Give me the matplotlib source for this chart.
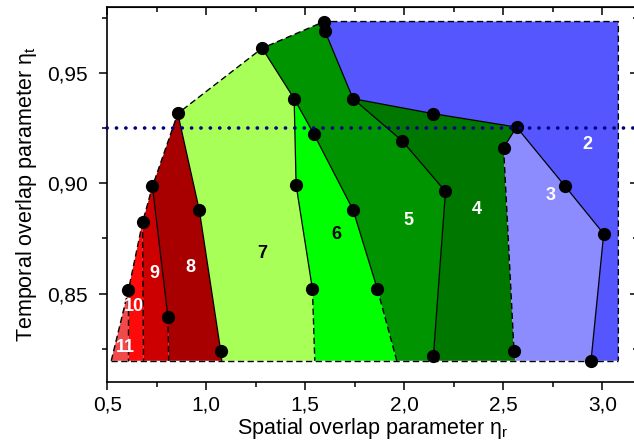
import numpy as np
import matplotlib
matplotlib.use("Agg")
import matplotlib.pyplot as plt
from matplotlib.ticker import MultipleLocator, FuncFormatter

plt.rcParams['font.family'] = ['Liberation Sans', 'DejaVu Sans']
plt.rcParams['mathtext.fontset'] = 'custom'
plt.rcParams['mathtext.rm'] = 'Liberation Sans'

# ---- data ----
y_bot = 0.8195          # lower edge of the filled map
y_top = 0.9734          # upper edge of the filled map
x_right = 3.081         # right edge of the filled map
y_dotted = 0.925        # horizontal reference line

# outer (dashed) left / upper border of the map
outer_x = [0.52, 0.607, 0.678, 0.728, 0.856, 1.282, 1.595, 3.081, 3.081]
outer_y = [y_bot, 0.8517, 0.8823, 0.8986, 0.9317, 0.9613, 0.9734, 0.9734, y_bot]

# region borders (solid part, dashed tail down to the bottom edge)
b9_x, b9_y = [0.728, 0.806], [0.8986, 0.8395]                      # 9 | 8
b9_tail_x = [0.806, 0.81]
b8_x = [0.856, 0.965, 1.073, 1.078]                               # 8 | 7
b8_y = [0.9317, 0.8877, 0.8238, y_bot]
b7_x, b7_y = [1.282, 1.4436, 1.4536, 1.536], [0.9613, 0.9384, 0.8992, 0.852]  # 7 | 6
b7_tail_x = [1.536, 1.548]
b6_x, b6_y = [1.4436, 1.544, 1.741, 1.864], [0.9384, 0.9222, 0.888, 0.852]   # 6 | 5
b6_tail_x = [1.864, 1.962]
b5_x = [1.595, 1.600, 1.741, 1.990, 2.208, 2.147, 2.145]          # 5 | 4
b5_y = [0.9734, 0.9689, 0.9384, 0.9192, 0.8963, 0.8217, y_bot]
b4top_x, b4top_y = [1.741, 2.147, 2.567], [0.9384, 0.9316, 0.9255]  # 4 | 2
b4_x, b4_y = [2.567, 2.5015], [0.9255, 0.9162]                      # 4 | 3
b4_tail_x, b4_tail_y = [2.5015, 2.554, 2.562], [0.9162, 0.824, y_bot]
b3_x = [2.567, 2.811, 3.007, 2.943]                                # 3 | 2
b3_y = [0.9255, 0.8988, 0.8771, y_bot]

# measured points (black dots)
pts_x = [0.607, 0.678, 0.728, 0.856, 0.965, 1.073, 0.806, 1.282, 1.4436, 1.4536,
         1.536, 1.544, 1.741, 1.864, 1.595, 1.600, 1.741, 1.990, 2.208, 2.147,
         2.147, 2.567, 2.5015, 2.554, 2.811, 3.007, 2.943]
pts_y = [0.8517, 0.8823, 0.8986, 0.9317, 0.8877, 0.8238, 0.8395, 0.9613, 0.9384, 0.8992,
         0.852, 0.9222, 0.888, 0.852, 0.9734, 0.9689, 0.9384, 0.9192, 0.8963, 0.8217,
         0.9316, 0.9255, 0.9162, 0.824, 0.8988, 0.8771, 0.8194]

region_labels = ['2', '3', '4', '5', '6', '7', '8', '9', '10', '11']
label_x = [2.924, 2.737, 2.367, 2.021, 1.657, 1.281, 0.922, 0.737, 0.633, 0.591]
label_y = [0.9177, 0.8947, 0.888, 0.8831, 0.8769, 0.8681, 0.862, 0.859, 0.8441, 0.8255]
label_colors = ['white', 'white', 'white', 'white', 'black', 'black',
                'white', 'white', 'white', 'white']

region_colors = {
    '11': '#f04a4a', '10': '#ff0a0a', '9': '#cc0000', '8': '#a80000',
    '7': '#a8ff58', '6': '#00ff00', '5': '#009400', '4': '#007800',
    '3': '#8c8cff', '2': '#5656ff',
}

# ---- region polygons built from the borders ----
polys = {
    '11': ([0.52, 0.607, 0.607], [y_bot, 0.8517, y_bot]),
    '10': ([0.607, 0.607, 0.678, 0.683], [y_bot, 0.8517, 0.8823, y_bot]),
    '9': ([0.683, 0.678] + b9_x + [0.81], [y_bot, 0.8823] + b9_y + [y_bot]),
    '8': ([0.81] + b9_x[::-1] + b8_x, [y_bot] + b9_y[::-1] + b8_y),
    '7': (b8_x[::-1] + b7_x + [1.548], b8_y[::-1] + b7_y + [y_bot]),
    '6': ([1.548] + b7_x[1:][::-1] + b6_x[1:] + [1.962],
          [y_bot] + b7_y[1:][::-1] + b6_y[1:] + [y_bot]),
    '5': ([1.962] + b6_x[::-1] + [1.282] + b5_x,
          [y_bot] + b6_y[::-1] + [0.9613] + b5_y),
    '4': (b5_x[2:][::-1] + b4top_x[1:] + b4_x[1:] + b4_tail_x[1:],
          b5_y[2:][::-1] + b4top_y[1:] + b4_y[1:] + b4_tail_y[1:]),
    '3': (b4_tail_x[::-1] + b4_x[::-1] + b3_x[1:],
          b4_tail_y[::-1] + b4_y[::-1] + b3_y[1:]),
    '2': (b3_x[::-1] + b4top_x[::-1][1:] + b5_x[:3][::-1] + [x_right, x_right],
          b3_y[::-1] + b4top_y[::-1][1:] + b5_y[:3][::-1] + [y_top, y_bot]),
}

fig = plt.figure(figsize=(6.34, 4.40), dpi=100)
ax = fig.add_axes([107.3 / 634, 58.3 / 440, 530.7 / 634, 374.7 / 440])

for name, (px, py) in polys.items():
    ax.fill(px, py, color=region_colors[name], lw=0, zorder=1)

dash = (0, (4.5, 2.5))
solid_kw = dict(color='black', lw=0.9, zorder=3)
dash_kw = dict(color='black', lw=1.0, ls=dash, zorder=3)

# outer border + bottom edge
ax.plot(outer_x, outer_y, **dash_kw)
ax.plot([outer_x[0], x_right], [y_bot, y_bot], **dash_kw)

# dashed verticals of regions 11/10 and 10/9
ax.plot([0.607, 0.607], [0.8517, y_bot], **dash_kw)
ax.plot([0.678, 0.683], [0.8823, y_bot], **dash_kw)

ax.plot(b9_x, b9_y, **solid_kw)
ax.plot(b9_tail_x, [0.8395, y_bot], **dash_kw)
ax.plot(b8_x, b8_y, **solid_kw)
ax.plot(b7_x, b7_y, **solid_kw)
ax.plot(b7_tail_x, [0.852, y_bot], **dash_kw)
ax.plot(b6_x, b6_y, **solid_kw)
ax.plot(b6_tail_x, [0.852, y_bot], **dash_kw)
ax.plot(b5_x, b5_y, **solid_kw)
ax.plot(b4top_x, b4top_y, **solid_kw)
ax.plot(b4_x, b4_y, **solid_kw)
ax.plot(b4_tail_x, b4_tail_y, **dash_kw)
ax.plot(b3_x, b3_y, **solid_kw)

ax.plot(pts_x, pts_y, 'o', color='black', ms=8.5, zorder=5)

# dotted reference line
ax.axhline(y_dotted, color='#000080', lw=2.6, ls=(0, (0.05, 2.55)),
           dash_capstyle='round', zorder=6, clip_on=False)

for t, x, y, c in zip(region_labels, label_x, label_y, label_colors):
    ax.text(x, y, t, color=c, fontsize=13, fontweight='bold',
            ha='center', va='center', zorder=7)

ax.set_xlim(0.5, 0.5 + 530.7 / 198.0)
ax.set_ylim(0.81, 0.98)

ax.xaxis.set_major_locator(MultipleLocator(0.5))
ax.xaxis.set_minor_locator(MultipleLocator(0.25))
ax.yaxis.set_major_locator(MultipleLocator(0.05))
ax.yaxis.set_minor_locator(MultipleLocator(0.025))
ax.xaxis.set_major_formatter(FuncFormatter(lambda v, p: f'{v:.1f}'.replace('.', ',')))
ax.yaxis.set_major_formatter(FuncFormatter(lambda v, p: f'{v:.2f}'.replace('.', ',')))

ax.tick_params(which='both', direction='out', width=1.1)
ax.tick_params(which='major', length=6, labelsize=15)
ax.tick_params(which='minor', length=3.5)
ax.tick_params(axis='x', pad=4)
ax.tick_params(axis='y', pad=8)
for s in ax.spines.values():
    s.set_linewidth(1.2)

# mirrored inward ticks on the top and right (no labels)
top = ax.secondary_xaxis('top')
top.xaxis.set_major_locator(MultipleLocator(0.5))
top.xaxis.set_minor_locator(MultipleLocator(0.25))
top.tick_params(which='both', direction='in', width=1.1,
                labeltop=False, labelbottom=False)
top.tick_params(which='major', length=6)
top.tick_params(which='minor', length=3.5)
right = ax.secondary_yaxis('right')
right.yaxis.set_major_locator(MultipleLocator(0.05))
right.yaxis.set_minor_locator(MultipleLocator(0.025))
right.tick_params(which='both', direction='in', width=1.1,
                  labelright=False, labelleft=False)
right.tick_params(which='major', length=6)
right.tick_params(which='minor', length=3.5)

ax.set_xlabel('Spatial overlap parameter $\\mathregular{η_r}$', fontsize=15.5, labelpad=1)
ax.set_ylabel('Temporal overlap parameter $\\mathregular{η_t}$', fontsize=15.5, labelpad=6)

fig.savefig('out.png', dpi=100)
